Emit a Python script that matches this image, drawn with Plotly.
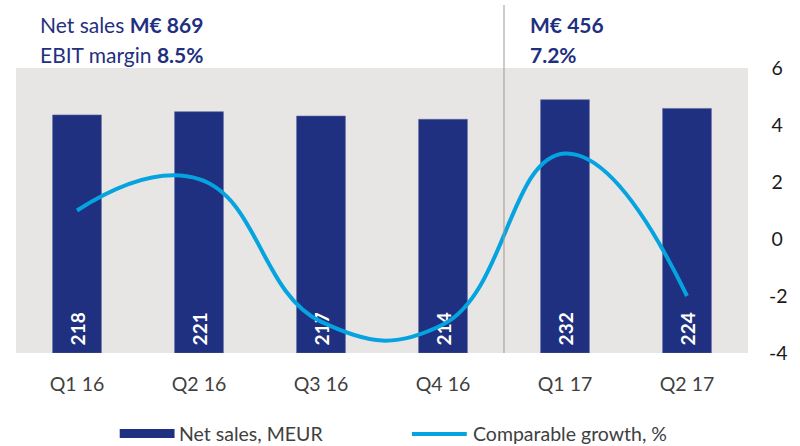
import plotly.graph_objects as go

quarters = ["Q1 16", "Q2 16", "Q3 16", "Q4 16", "Q1 17", "Q2 17"]
net_sales = [218, 221, 217, 214, 232, 224]
comp_growth = [1.0, 2.1, -2.9, -3.0, 3.0, -2.0]
growth_ticks = [-4, -2, 0, 2, 4, 6]
series_names = ["Net sales, MEUR", "Comparable growth, %"]

NAVY = "#1F3080"
BLUE = "#05A3DF"
FONT = "Lato"
GREY_TXT = "#404040"

fig = go.Figure()
fig.add_trace(go.Bar(
    x=quarters, y=net_sales, name=series_names[0],
    marker=dict(color=NAVY, line=dict(width=0.6, color="#5A67A0")),
    width=0.4,
    text=["\u00a0" + str(v) for v in net_sales],
    textposition="inside", insidetextanchor="start", textangle=-90,
    textfont=dict(color="white", size=19, family=FONT, weight="bold"),
    yaxis="y", showlegend=False,
))
fig.add_trace(go.Scatter(
    x=quarters, y=comp_growth, name=series_names[1],
    mode="lines", line=dict(color=BLUE, width=4, shape="spline", smoothing=1.3),
    yaxis="y2", showlegend=False,
))

# divider between 2016 and 2017
fig.add_shape(type="line", xref="x", yref="paper", x0=3.5, x1=3.5, y0=0, y1=1.221,
              line=dict(color="#A0978F", width=1))

ann_font = dict(family=FONT, size=21, color=NAVY)
fig.add_annotation(xref="paper", yref="paper", x=0.030, y=1.154, xanchor="left", yanchor="middle",
                   text="Net sales <b>M€ 869</b>", showarrow=False, font=ann_font)
fig.add_annotation(xref="paper", yref="paper", x=0.030, y=1.049, xanchor="left", yanchor="middle",
                   text="EBIT margin <b>8.5%</b>", showarrow=False, font=ann_font)
fig.add_annotation(xref="paper", yref="paper", x=0.700, y=1.154, xanchor="left", yanchor="middle",
                   text="<b>M€ 456</b>", showarrow=False, font=ann_font)
fig.add_annotation(xref="paper", yref="paper", x=0.700, y=1.049, xanchor="left", yanchor="middle",
                   text="<b>7.2%</b>", showarrow=False, font=ann_font)

# custom legend (wide swatches as in the original)
leg_font = dict(family=FONT, size=19.5, color=GREY_TXT)
fig.add_shape(type="rect", xref="paper", yref="paper", x0=0.1417, x1=0.2166, y0=-0.298, y1=-0.2667,
              fillcolor=NAVY, line=dict(width=0))
fig.add_annotation(xref="paper", yref="paper", x=0.2193, y=-0.2825, xanchor="left", yanchor="middle",
                   text=series_names[0], showarrow=False, font=leg_font)
fig.add_shape(type="line", xref="paper", yref="paper", x0=0.5409, x1=0.6158, y0=-0.2842, y1=-0.2842,
              line=dict(color=BLUE, width=4))
fig.add_annotation(xref="paper", yref="paper", x=0.6213, y=-0.2825, xanchor="left", yanchor="middle",
                   text=series_names[1], showarrow=False, font=leg_font)

tick_text = [("\u2009" if v >= 0 else "") + (str(v) if v >= 0 else "-" + str(-v)) for v in growth_ticks]

fig.update_layout(
    width=800, height=446,
    margin=dict(l=16, r=50, t=68, b=93),
    paper_bgcolor="white", plot_bgcolor="#E8E6E4",
    font=dict(family=FONT, size=19, color=GREY_TXT),
    showlegend=False,
    xaxis=dict(showgrid=False, zeroline=False, showline=False, ticks="",
               tickfont=dict(size=19.5, color=GREY_TXT), ticklabelstandoff=17),
    yaxis=dict(range=[0, 261], visible=False, showgrid=False, zeroline=False),
    yaxis2=dict(range=[-4, 6], overlaying="y", side="right",
                tickvals=growth_ticks, ticktext=tick_text,
                showgrid=False, zeroline=False, showline=False, ticks="",
                tickfont=dict(size=19.5, color="#1a1a1a"), ticklabelstandoff=20),
)

fig.write_html("out.html")
